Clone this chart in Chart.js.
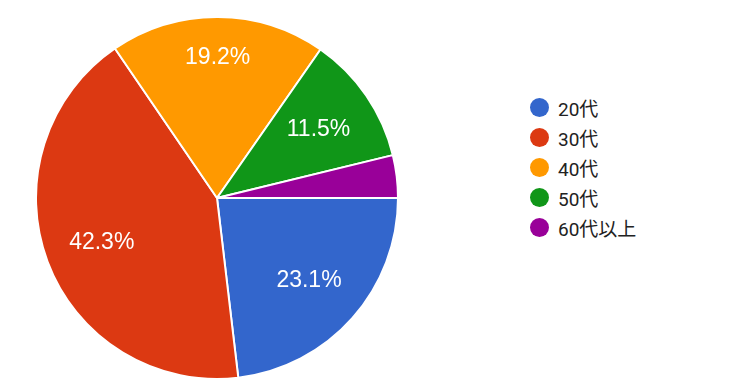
<!DOCTYPE html>
<html>
<head>
<meta charset="utf-8">
<script src="https://cdn.jsdelivr.net/npm/chart.js@4/dist/chart.umd.min.js"></script>
<style>
  html, body { margin: 0; padding: 0; background: #fff; }
  body { width: 750px; height: 388px; position: relative; overflow: hidden; }
  #pieBox { position: absolute; left: 35px; top: 16px; width: 364px; height: 364px; }
  #legend { position: absolute; left: 530px; top: 93px; font-family: Roboto, "Noto Sans CJK JP", sans-serif; font-size: 19px; color: #222; }
  .item { height: 29.8px; display: flex; align-items: center; }
  .dot { width: 19px; height: 19px; border-radius: 50%; margin-right: 9px; flex: none; }
</style>
</head>
<body>
<div id="pieBox"><canvas id="pie"></canvas></div>
<div id="legend"></div>
<script>
// answers by age group
const ages = ['20代', '30代', '40代', '50代', '60代以上'];
const percents = [23.1, 42.3, 19.2, 11.5, 3.8];
const colors = ['#3366cc', '#dc3912', '#ff9900', '#109618', '#990099'];

// how far out each label sits (fraction of radius)
const labelRadius = [0.68, 0.68, 0.78, 0.68, 0.68];

// legend on the right
const legend = document.getElementById('legend');
ages.forEach(function (a, i) {
    const row = document.createElement('div');
    row.className = 'item';
    row.innerHTML = '<span class="dot" style="background:' + colors[i] + '"></span><span>' + a + '</span>';
    legend.appendChild(row);
});

// percent text inside each slice (small ones left out)
const sliceLabels = {
    id: 'sliceLabels',
    afterDatasetsDraw(chart) {
        const ctx = chart.ctx;
        const arcs = chart.getDatasetMeta(0).data;
        ctx.save();
        ctx.fillStyle = '#fff';
        ctx.font = '23px "Liberation Sans", Arial, sans-serif';
        ctx.textAlign = 'center';
        ctx.textBaseline = 'middle';
        arcs.forEach(function (arc, i) {
            if (percents[i] < 5) return;
            const p = arc.getProps(['x', 'y', 'startAngle', 'endAngle', 'outerRadius']);
            const mid = (p.startAngle + p.endAngle) / 2;
            const r = p.outerRadius * labelRadius[i];
            ctx.fillText(percents[i].toFixed(1) + '%', p.x + Math.cos(mid) * r, p.y + Math.sin(mid) * r + 1);
        });
        ctx.restore();
    }
};

new Chart(document.getElementById('pie'), {
    type: 'pie',
    plugins: [sliceLabels],
    data: {
        labels: ages,
        datasets: [{
            data: percents,
            backgroundColor: colors,
            borderColor: '#fff',
            borderWidth: 2
        }]
    },
    options: {
        responsive: true,
        maintainAspectRatio: false,
        animation: false,
        rotation: 90, // first slice starts at 3 o'clock
        layout: { padding: 0 },
        plugins: {
            legend: { display: false },
            tooltip: { enabled: false }
        }
    }
});
</script>
</body>
</html>
